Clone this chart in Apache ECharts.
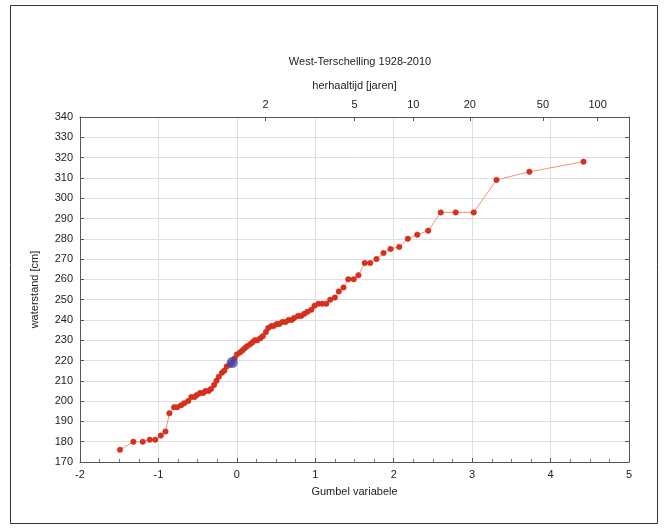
<!DOCTYPE html>
<html>
<head>
<meta charset="utf-8">
<script src="https://cdn.jsdelivr.net/npm/echarts@6/dist/echarts.min.js"></script>
<style>
html,body{margin:0;padding:0;background:#fff;}
#chart{width:665px;height:528px;}
</style>
</head>
<body>
<div id="chart"></div>
<script>
// Gumbel variable (x) of each ranked annual maximum
const gumbelX = [
  -1.49,-1.32,-1.20,-1.11,-1.04,-0.97,-0.91,-0.86,-0.80,-0.76,
  -0.71,-0.67,-0.62,-0.58,-0.54,-0.51,-0.47,-0.43,-0.40,-0.36,
  -0.33,-0.29,-0.26,-0.23,-0.19,-0.16,-0.13,-0.09,-0.06,-0.03,
   0.00, 0.04, 0.07, 0.10, 0.13, 0.17, 0.20, 0.23, 0.26, 0.30,
   0.33, 0.37, 0.40, 0.44, 0.47, 0.51, 0.54, 0.58, 0.62, 0.66,
   0.70, 0.73, 0.78, 0.82, 0.86, 0.90, 0.95, 0.99, 1.04, 1.09,
   1.14, 1.19, 1.25, 1.30, 1.36, 1.42, 1.49, 1.55, 1.63, 1.70,
   1.78, 1.87, 1.96, 2.07, 2.18, 2.30, 2.44, 2.60, 2.79, 3.02,
   3.31, 3.73, 4.42
];
// waterstand [cm]
const waterstand = [
  176,180,180,181,181,183,185,194,197,197,
  198,199,200,202,202,203,204,204,205,205,
  206,208,210,212,214,215,217,218,219,221,
  223,224,225,226,227,228,229,230,230,231,
  232,234,236,237,237,238,238,239,239,240,
  240,241,242,242,243,244,245,247,248,248,
  248,250,251,254,256,260,260,262,268,268,
  270,273,275,276,280,282,284,293,293,293,
  309,313,318
];
const highlightIndex = 28; // blue point
const returnPeriods = [2, 5, 10, 20, 50, 100]; // herhaaltijd [jaren]
const xTicks = [-2, -1, 0, 1, 2, 3, 4, 5];
const yTicks = [170, 340];

// axis transform: return period T -> Gumbel variable
const tPos = returnPeriods.map(T => -Math.log(-Math.log(1 - 1 / T)));

const FONT = '"Liberation Sans", Arial, sans-serif';
const TXT = '#222';
const LINE = '#555';

const chart = echarts.init(document.getElementById('chart'), null, {renderer: 'canvas'});
const redData = gumbelX.map((x, i) => [x, waterstand[i]]);

chart.setOption({
  animation: false,
  backgroundColor: '#fff',
  title: {
    text: 'West-Terschelling 1928-2010',
    left: 355, top: 51, textAlign: 'center',
    textStyle: {fontFamily: FONT, fontSize: 11, fontWeight: 'normal', color: TXT}
  },
  graphic: [{
    type: 'rect', shape: {x: 10.5, y: 5.5, width: 647, height: 518},
    style: {fill: 'none', stroke: '#333', lineWidth: 1}, silent: true
  }],
  grid: {left: 80, right: 36, top: 117, bottom: 66},
  xAxis: [{
    type: 'value', min: xTicks[0], max: xTicks[xTicks.length - 1], interval: 1,
    position: 'bottom',
    name: 'Gumbel variabele', nameLocation: 'middle', nameGap: 24,
    nameTextStyle: {fontFamily: FONT, fontSize: 11, color: TXT},
    axisLine: {show: true, onZero: false, lineStyle: {color: LINE}},
    axisTick: {show: true, inside: true, length: 4, lineStyle: {color: LINE}},
    minorTick: {show: true, splitNumber: 4, length: 3, lineStyle: {color: '#777'}},
    axisLabel: {fontFamily: FONT, fontSize: 11, color: TXT, margin: 7},
    splitLine: {show: true, lineStyle: {color: '#dedede'}}
  }, {
    type: 'value', min: xTicks[0], max: xTicks[xTicks.length - 1],
    position: 'top',
    name: 'herhaaltijd [jaren]', nameLocation: 'middle', nameGap: 26,
    nameTextStyle: {fontFamily: FONT, fontSize: 11, color: TXT},
    axisLine: {show: true, onZero: false, lineStyle: {color: LINE}},
    axisTick: {show: true, inside: true, length: 4, customValues: tPos, lineStyle: {color: LINE}},
    axisLabel: {
      fontFamily: FONT, fontSize: 11, color: TXT, margin: 7, customValues: tPos,
      formatter: v => {
        let best = 0, d = Infinity;
        tPos.forEach((p, i) => { if (Math.abs(p - v) < d) { d = Math.abs(p - v); best = i; } });
        return String(returnPeriods[best]);
      }
    },
    splitLine: {show: false}
  }],
  yAxis: [{
    type: 'value', min: yTicks[0], max: yTicks[1], interval: 10,
    name: 'waterstand [cm]', nameLocation: 'middle', nameGap: 40, nameRotate: 90,
    nameTextStyle: {fontFamily: FONT, fontSize: 11, color: TXT},
    axisLine: {show: true, onZero: false, lineStyle: {color: LINE}},
    axisTick: {show: true, inside: true, length: 4, lineStyle: {color: LINE}},
    axisLabel: {fontFamily: FONT, fontSize: 11, color: TXT, margin: 7},
    splitLine: {show: true, lineStyle: {color: '#dedede'}}
  }, {
    type: 'value', min: yTicks[0], max: yTicks[1], interval: 10, position: 'right',
    axisLine: {show: true, onZero: false, lineStyle: {color: LINE}},
    axisTick: {show: true, inside: true, length: 4, lineStyle: {color: LINE}},
    axisLabel: {show: false},
    splitLine: {show: false}
  }],
  series: [{
    type: 'line', xAxisIndex: 0, yAxisIndex: 0,
    data: redData,
    symbol: 'circle', symbolSize: 5.5,
    lineStyle: {color: '#f2937c', width: 1},
    itemStyle: {color: '#d9301c', borderColor: '#c8281a', borderWidth: 0.5},
    z: 3
  }, {
    type: 'scatter', xAxisIndex: 0, yAxisIndex: 0,
    data: [[gumbelX[highlightIndex], waterstand[highlightIndex]]],
    symbol: 'circle', symbolSize: 11,
    itemStyle: {color: '#3a49b8'},
    z: 5
  }]
});
</script>
</body>
</html>
